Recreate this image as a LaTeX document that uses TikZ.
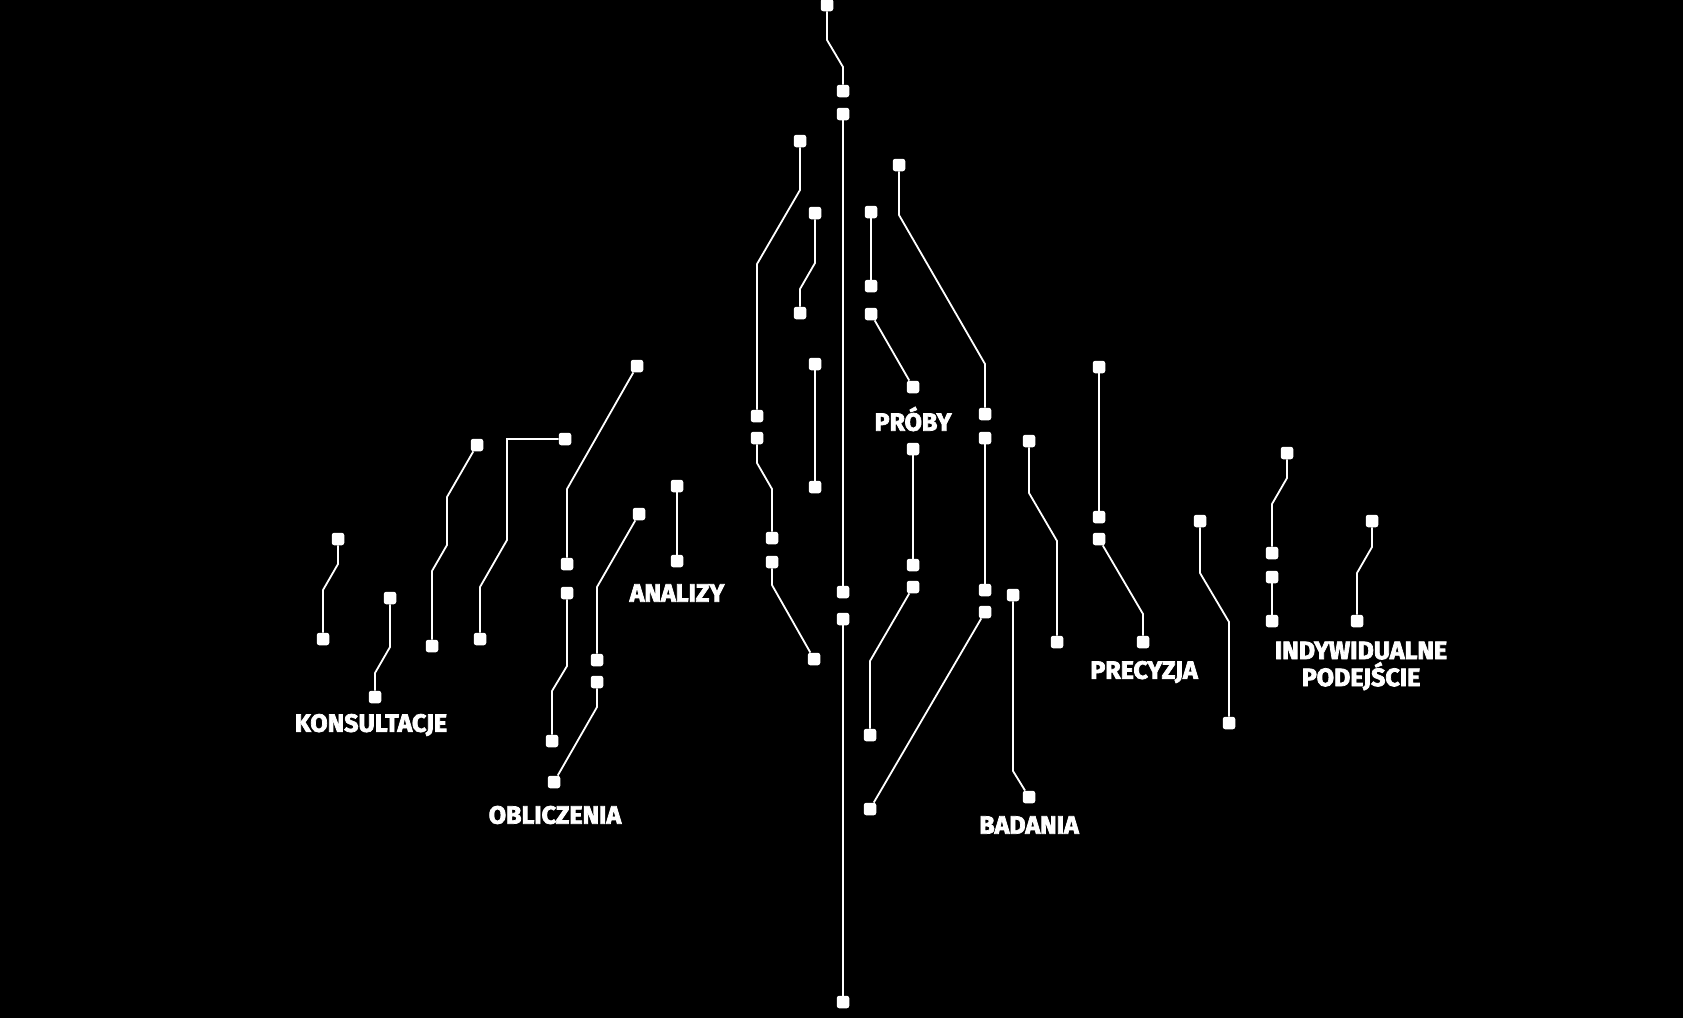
\documentclass[tikz,border=0pt]{standalone}
\usepackage{fontspec}
\setmainfont{Fira Sans}[BoldFeatures={FakeBold=3}]
\usepackage{tikz}

\begin{document}
\begin{tikzpicture}[x=1pt,y=-1pt,
  pad/.style={draw=none,fill=white,rectangle,rounded corners=2.5pt,minimum size=12.5pt,inner sep=0pt},
  trace/.style={white,line width=1.8pt},
  heading/.style={text=white,inner sep=0pt,align=center,font=\bfseries\fontsize{25}{27}\selectfont}]
\fill [black] (0,0) rectangle (1683,1018);
\useasboundingbox (0,0) rectangle (1683,1018);
% centre column
\node [pad] (c1) at (827,5) {};
\node [pad] (c2) at (843,91) {};
\node [pad] (c3) at (843,114) {};
\node [pad] (c4) at (843,592) {};
\node [pad] (c5) at (843,619) {};
\node [pad] (c6) at (843,1002) {};
\draw [trace] (c1) -- ++(0,35) -- ++(16,27) -- (c2);
\draw [trace] (c3) -- (c4);
\draw [trace] (c5) -- (c6);
% left of centre
\node [pad] (m1) at (800,141) {};
\node [pad] (m2) at (757,416) {};
\draw [trace] (m1) -- ++(0,49) -- ++(-43,74) -- (m2);
\node [pad] (m3) at (815,213) {};
\node [pad] (m4) at (800,313) {};
\draw [trace] (m3) -- ++(0,50) -- ++(-15,26) -- (m4);
\node [pad] (m5) at (815,364) {};
\node [pad] (m6) at (815,487) {};
\draw [trace] (m5) -- (m6);
\node [pad] (m7) at (757,438) {};
\node [pad] (m8) at (772,538) {};
\draw [trace] (m7) -- ++(0,25) -- ++(15,26) -- (m8);
\node [pad] (m9) at (772,562) {};
\node [pad] (m10) at (814,659) {};
\draw [trace] (m9) -- ++(0,23) -- (m10);
% right of centre
\node [pad] (n1) at (871,212) {};
\node [pad] (n2) at (871,286) {};
\draw [trace] (n1) -- (n2);
\node [pad] (n3) at (871,314) {};
\node [pad] (n4) at (913,387) {};
\draw [trace] (n3) -- (n4);
\node [pad] (n5) at (899,165) {};
\node [pad] (n6) at (985,414) {};
\draw [trace] (n5) -- ++(0,50) -- ++(86,149) -- (n6);
\node [pad] (n7) at (913,449) {};
\node [pad] (n8) at (913,565) {};
\draw [trace] (n7) -- (n8);
\node [pad] (n9) at (913,587) {};
\node [pad] (n10) at (870,735) {};
\draw [trace] (n9) -- ++(-43,74) -- (n10);
\node [pad] (n11) at (985,438) {};
\node [pad] (n12) at (985,590) {};
\draw [trace] (n11) -- (n12);
\node [pad] (n13) at (985,612) {};
\node [pad] (n14) at (870,809) {};
\draw [trace] (n13) -- (n14);
\node [pad] (n15) at (1013,595) {};
\node [pad] (n16) at (1029,797) {};
\draw [trace] (n15) -- ++(0,176) -- (n16);
\node [heading] (proby) at (913,419) {PRÓBY};
\node [heading] (badania) at (1029,825) {BADANIA};
% right
\node [pad] (r1) at (1029,441) {};
\node [pad] (r2) at (1057,642) {};
\draw [trace] (r1) -- ++(0,52) -- ++(28,48) -- (r2);
\node [pad] (r3) at (1099,367) {};
\node [pad] (r4) at (1099,517) {};
\draw [trace] (r3) -- (r4);
\node [pad] (r5) at (1099,539) {};
\node [pad] (r6) at (1143,642) {};
\draw [trace] (r5) -- ++(44,75) -- (r6);
\node [pad] (r7) at (1200,521) {};
\node [pad] (r8) at (1229,723) {};
\draw [trace] (r7) -- ++(0,52) -- ++(29,49) -- (r8);
\node [heading] (precyzja) at (1144,672) {PRECYZJA};
\node [pad] (r9) at (1287,453) {};
\node [pad] (r10) at (1272,553) {};
\draw [trace] (r9) -- ++(0,25) -- ++(-15,26) -- (r10);
\node [pad] (r11) at (1272,577) {};
\node [pad] (r12) at (1272,621) {};
\draw [trace] (r11) -- (r12);
\node [pad] (r13) at (1372,521) {};
\node [pad] (r14) at (1357,621) {};
\draw [trace] (r13) -- ++(0,26) -- ++(-15,26) -- (r14);
\node [heading] (podejscie) at (1361,666) {INDYWIDUALNE\\PODEJŚCIE};
% left
\node [pad] (l1) at (338,539) {};
\node [pad] (l2) at (323,639) {};
\draw [trace] (l1) -- ++(0,25) -- ++(-15,26) -- (l2);
\node [pad] (l3) at (390,598) {};
\node [pad] (l4) at (375,697) {};
\draw [trace] (l3) -- ++(0,49) -- ++(-15,26) -- (l4);
\node [heading] (konsultacje) at (371,725) {KONSULTACJE};
\node [pad] (l5) at (477,445) {};
\node [pad] (l6) at (432,646) {};
\draw [trace] (l5) -- ++(-30,52) -- ++(0,48) -- ++(-15,26) -- (l6);
\node [pad] (l7) at (565,439) {};
\node [pad] (l8) at (480,639) {};
\draw [trace] (l7) -- ++(-58,0) -- ++(0,101) -- ++(-27,47) -- (l8);
\node [pad] (l9) at (637,366) {};
\node [pad] (l10) at (567,564) {};
\draw [trace] (l9) -- ++(-70,123) -- (l10);
\node [pad] (l11) at (567,593) {};
\node [pad] (l12) at (552,741) {};
\draw [trace] (l11) -- ++(0,73) -- ++(-15,25) -- (l12);
\node [pad] (l13) at (639,514) {};
\node [pad] (l14) at (597,660) {};
\draw [trace] (l13) -- ++(-42,73) -- (l14);
\node [pad] (l15) at (597,682) {};
\node [pad] (l16) at (554,782) {};
\draw [trace] (l15) -- ++(0,25) -- (l16);
\node [heading] (obliczenia) at (555,815) {OBLICZENIA};
\node [pad] (l17) at (677,486) {};
\node [pad] (l18) at (677,561) {};
\draw [trace] (l17) -- (l18);
\node [heading] (analizy) at (677,593) {ANALIZY};
\end{tikzpicture}
\end{document}
